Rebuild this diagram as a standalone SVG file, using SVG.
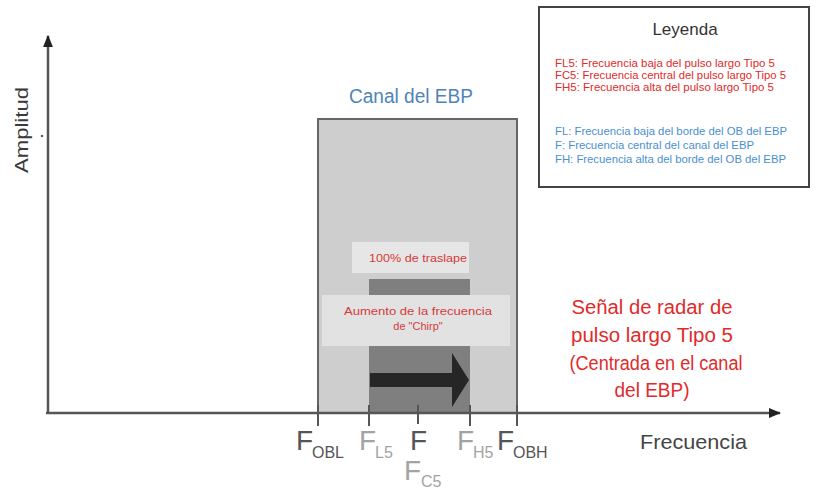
<svg xmlns="http://www.w3.org/2000/svg" width="818" height="491" viewBox="0 0 818 491">
<style>
text{font-family:"Liberation Sans",Arial,sans-serif}
.axis{stroke:#555;stroke-width:2.5;fill:none}
.tick{stroke:#555;stroke-width:2}
.dk{fill:#555}
.lt{fill:#a3a3a3}
.big{font-size:28px}
.sub{font-size:16px}
.red{fill:#e02a2a}
.blue{fill:#4a8fd2}
.leg{font-size:10.5px}
.lbl{fill:#d63a3a;font-size:11px}
</style>
<defs>
<marker id="ah" viewBox="0 0 10 10" refX="9" refY="5" markerWidth="5" markerHeight="5" orient="auto" markerUnits="strokeWidth">
<path d="M0,1 L10,5 L0,9 Z" fill="#222"/>
</marker>
</defs>
<rect width="818" height="491" fill="#fff"/>

<g id="channel">
<rect x="318" y="119" width="199" height="294" fill="#cecece" stroke="#666" stroke-width="2"/>
<text x="411" y="103" text-anchor="middle" font-size="20" fill="#4f84b8" textLength="124" lengthAdjust="spacingAndGlyphs">Canal del EBP</text>
</g>

<g id="pulse">
<rect x="369" y="279" width="101" height="134" fill="#7f7f7f"/>
</g>

<g id="overlap-label">
<rect x="352" y="242" width="117" height="31" fill="#e6e6e6"/>
<text class="lbl" x="418" y="262" text-anchor="middle" textLength="98" lengthAdjust="spacingAndGlyphs">100% de traslape</text>
</g>

<g id="chirp-label">
<rect x="322" y="295" width="188" height="51" fill="#e2e2e2"/>
<text class="lbl" x="418" y="315" text-anchor="middle" textLength="148" lengthAdjust="spacingAndGlyphs">Aumento de la frecuencia</text>
<text class="lbl" x="418" y="330" text-anchor="middle">de "Chirp"</text>
</g>

<g id="chirp-arrow">
<polygon points="370,373 452,373 452,353 469,380 452,407 452,387 370,387" fill="#262626"/>
</g>

<g id="connectors">
<line class="axis" x1="48" y1="413" x2="48" y2="36" marker-end="url(#ah)"/>
<line class="axis" x1="46" y1="413" x2="780" y2="413" marker-end="url(#ah)"/>
<line class="tick" x1="318" y1="405" x2="318" y2="426"/>
<line class="tick" x1="369" y1="405" x2="369" y2="426"/>
<line class="tick" x1="418" y1="405" x2="418" y2="424"/>
<line class="tick" x1="470" y1="405" x2="470" y2="426"/>
<line class="tick" x1="517" y1="405" x2="517" y2="426"/>
</g>
<circle cx="42" cy="136" r="1.2" fill="#555"/>

<g id="axis-labels">
<text x="28" y="130" transform="rotate(-90 28 130)" text-anchor="middle" font-size="19" fill="#3a3a3a" textLength="86" lengthAdjust="spacingAndGlyphs">Amplitud</text>
<text x="640" y="449" font-size="21" fill="#454545" textLength="107" lengthAdjust="spacingAndGlyphs">Frecuencia</text>
</g>

<g id="freq-labels">
<text class="big dk" x="296" y="450">F</text><text class="sub dk" x="312" y="458">OBL</text>
<text class="big lt" x="359" y="450">F</text><text class="sub lt" x="375" y="458">L5</text>
<text class="big dk" x="410" y="450">F</text>
<text class="big lt" x="404" y="480">F</text><text class="sub lt" x="421" y="487">C5</text>
<text class="big lt" x="457" y="450">F</text><text class="sub lt" x="473" y="458">H5</text>
<text class="big dk" x="497" y="450">F</text><text class="sub dk" x="513" y="458">OBH</text>
</g>

<g id="signal-label">
<text x="652" y="314" text-anchor="middle" font-size="20" fill="#df2b2b" textLength="161" lengthAdjust="spacingAndGlyphs">Señal de radar de</text>
<text x="652" y="342" text-anchor="middle" font-size="20" fill="#df2b2b" textLength="162" lengthAdjust="spacingAndGlyphs">pulso largo Tipo 5</text>
<text x="656" y="370" text-anchor="middle" font-size="20" fill="#df2b2b" textLength="173" lengthAdjust="spacingAndGlyphs">(Centrada en el canal</text>
<text x="652" y="397" text-anchor="middle" font-size="20" fill="#df2b2b" textLength="75" lengthAdjust="spacingAndGlyphs">del EBP)</text>
</g>

<g id="legend">
<rect x="539" y="7" width="270" height="180" fill="#fff" stroke="#444" stroke-width="2"/>
<text x="685" y="35" text-anchor="middle" font-size="17" fill="#333">Leyenda</text>
<text class="leg red" x="555" y="67" textLength="220" lengthAdjust="spacingAndGlyphs">FL5: Frecuencia baja del pulso largo Tipo 5</text>
<text class="leg red" x="555" y="79" textLength="231" lengthAdjust="spacingAndGlyphs">FC5: Frecuencia central del pulso largo Tipo 5</text>
<text class="leg red" x="555" y="91" textLength="219" lengthAdjust="spacingAndGlyphs">FH5: Frecuencia alta del pulso largo Tipo 5</text>
<text class="leg blue" x="555" y="135" textLength="232" lengthAdjust="spacingAndGlyphs">FL: Frecuencia baja del borde del OB del EBP</text>
<text class="leg blue" x="555" y="149" textLength="199" lengthAdjust="spacingAndGlyphs">F: Frecuencia central del canal del EBP</text>
<text class="leg blue" x="555" y="163" textLength="231" lengthAdjust="spacingAndGlyphs">FH: Frecuencia alta del borde del OB del EBP</text>
</g>
</svg>
